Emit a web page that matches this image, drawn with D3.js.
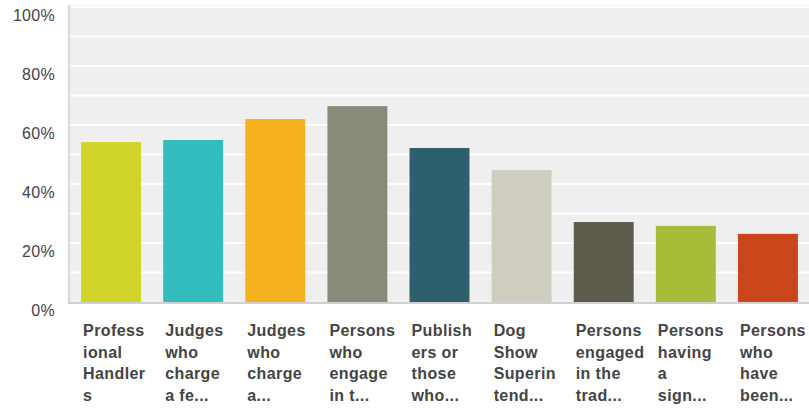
<!DOCTYPE html>
<html><head><meta charset="utf-8">
<script src="https://cdn.jsdelivr.net/npm/d3@7"></script>
<style>body{margin:0;background:#fff}svg{display:block}</style>
</head><body>
<svg id="c" width="809" height="408"></svg>
<script>
const categories = [
  ["Profess","ional","Handler","s"],
  ["Judges","who","charge","a fe..."],
  ["Judges","who","charge","a..."],
  ["Persons","who","engage","in t..."],
  ["Publish","ers or","those","who..."],
  ["Dog","Show","Superin","tend..."],
  ["Persons","engaged","in the","trad..."],
  ["Persons","having","a","sign..."],
  ["Persons","who","have","been..."]
];
const values = [54.2, 54.9, 62.0, 66.4, 52.2, 44.7, 27.1, 25.8, 23.1];
const colors = ["#d0d428","#33bdbf","#f7b11f","#898a79","#2e5f6d","#cfcdc0","#5c5b4c","#a9bc39","#c9461b"];
const yTicks = [0, 20, 40, 60, 80, 100];
const gridTicks = [10,20,30,40,50,60,70,80,90,100];

(function(){
const svg = d3.select("#c");
const L = 70, R = 809, T = 7, B = 302;
const x = d3.scaleBand().domain(d3.range(values.length)).range([L, R]).paddingInner(0.27).paddingOuter(0.135);
const y = d3.scaleLinear().domain([0, 100]).range([B, T]);

svg.append("rect").attr("x", L).attr("y", 5).attr("width", R - L).attr("height", B - 5).attr("fill", "#efefef");

svg.append("g").selectAll("line").data(gridTicks).join("line")
  .attr("x1", L).attr("x2", R).attr("y1", d => y(d)).attr("y2", d => y(d))
  .attr("stroke", "#fff").attr("stroke-width", 2);

svg.append("g").selectAll("rect").data(values).join("rect")
  .attr("x", (d, i) => x(i)).attr("width", x.bandwidth())
  .attr("y", d => y(d)).attr("height", d => B - y(d))
  .attr("fill", (d, i) => colors[i]);

svg.append("line").attr("x1", 69).attr("x2", 69).attr("y1", 5).attr("y2", B + 1).attr("stroke", "#d9d9d9").attr("stroke-width", 2);
svg.append("line").attr("x1", 68).attr("x2", R).attr("y1", B + 1).attr("y2", B + 1).attr("stroke", "#d0d0d0").attr("stroke-width", 2);

const yAxis = d3.axisLeft(y).tickValues(yTicks).tickFormat(d => d + "%").tickSize(0).tickPadding(0);
const ya = svg.append("g").attr("transform", "translate(55,8)").call(yAxis);
ya.select(".domain").remove();
ya.selectAll("text").attr("font-family", "Liberation Sans, Arial, sans-serif").attr("font-size", 16).attr("letter-spacing", 0.3).attr("fill", "#444");

const xl = svg.append("g");
categories.forEach((lines, i) => {
  const t = xl.append("text").attr("x", x(i) + 2).attr("y", 336)
    .attr("font-family", "Liberation Sans, Arial, sans-serif").attr("font-size", 16)
    .attr("font-weight", "bold").attr("fill", "#444").attr("letter-spacing", 0.4);
  lines.forEach((l, j) => t.append("tspan").attr("x", x(i) + 2).attr("y", 336 + j * 21.5).text(l));
});
})();
</script>
</body></html>
